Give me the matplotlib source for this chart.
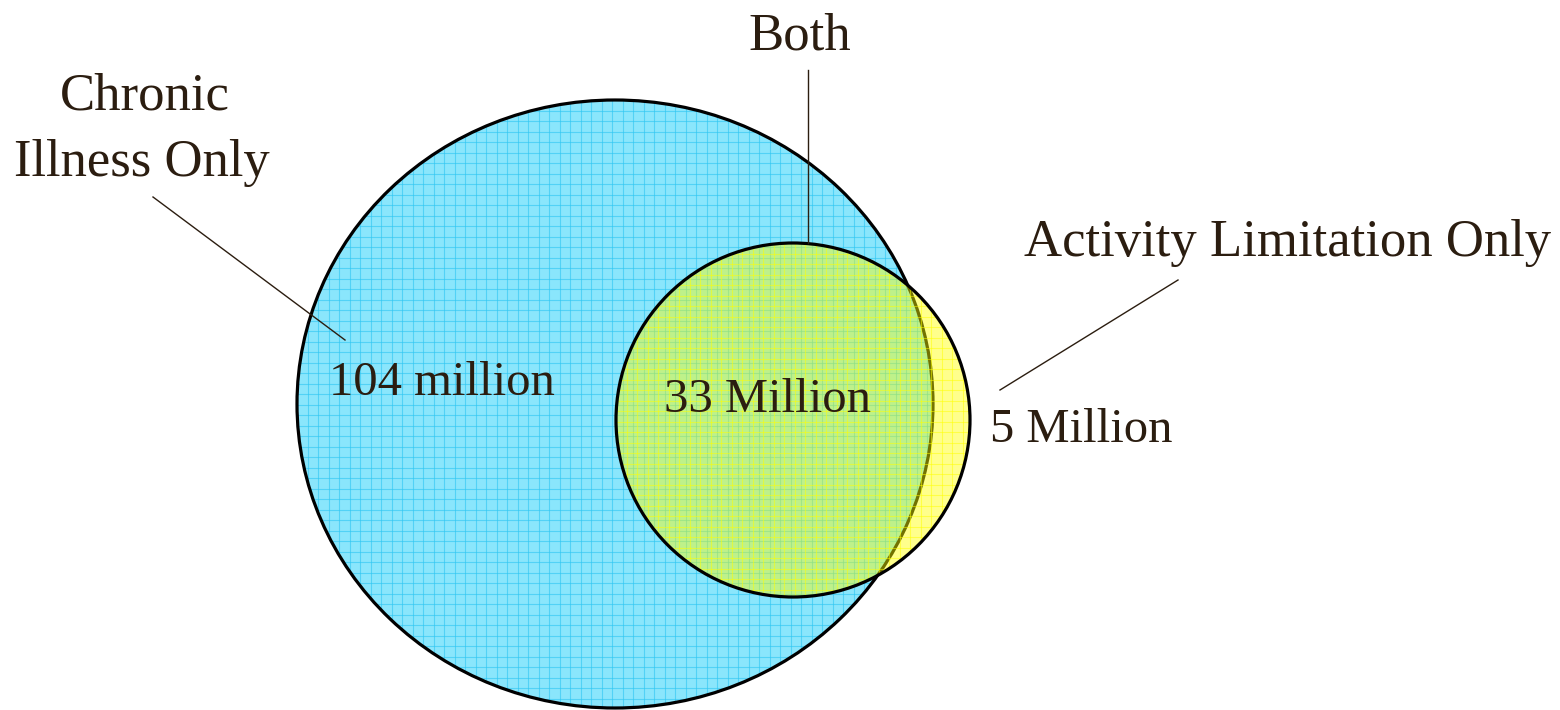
import matplotlib
matplotlib.use("Agg")
import matplotlib.pyplot as plt
import numpy as np
from matplotlib.patches import Ellipse

# Data
sets = ["Chronic Illness Only", "Both", "Activity Limitation Only"]
values_text = ["104 million", "33 Million", "5 Million"]

plt.rcParams['font.family'] = ['Liberation Serif', 'DejaVu Serif']
TXT = '#2b1d10'

fig = plt.figure(figsize=(15.6, 7.1), dpi=100)
ax = fig.add_axes([0, 0, 1, 1])
ax.set_xlim(0, 1560)
ax.set_ylim(710, 0)
ax.axis('off')

grid_step = 10.5


def texture(patch, color, alpha, z):
    x0, y0 = patch.center
    w, h = patch.width, patch.height
    xs = np.arange(x0 - w / 2, x0 + w / 2, grid_step)
    ys = np.arange(y0 - h / 2, y0 + h / 2, grid_step)
    for x in xs:
        ln, = ax.plot([x, x], [y0 - h / 2, y0 + h / 2], color=color, lw=0.8,
                      alpha=alpha, zorder=z)
        ln.set_clip_path(patch)
    for y in ys:
        ln, = ax.plot([x0 - w / 2, x0 + w / 2], [y, y], color=color, lw=0.8,
                      alpha=alpha, zorder=z)
        ln.set_clip_path(patch)


# big circle (chronic illness)
big_c, big_w, big_h = (615, 404), 636, 608
big = Ellipse(big_c, big_w, big_h, facecolor='#8ae6fc', edgecolor='none', zorder=1)
ax.add_patch(big)
texture(big, '#2ec6f2', 0.6, 1.5)
ax.add_patch(Ellipse(big_c, big_w, big_h, facecolor='none', edgecolor='black', lw=2.3, zorder=2))

# small circle (activity limitation)
sm_c, sm_d = (793, 420), 354
small = Ellipse(sm_c, sm_d, sm_d, facecolor='#ffff00', alpha=0.45, edgecolor='none', zorder=3)
ax.add_patch(small)
texture(small, '#ffff00', 0.5, 3.5)
ax.add_patch(Ellipse(sm_c, sm_d, sm_d, facecolor='none', edgecolor='black', lw=2.3, zorder=4))

fs = 38
fv = 35
ax.text(145, 97, "Chronic", fontsize=fs, color=TXT, ha='center', va='center', zorder=5)
ax.text(142, 163, "Illness Only", fontsize=fs, color=TXT, ha='center', va='center', zorder=5)
ax.text(800, 36, sets[1], fontsize=fs, color=TXT, ha='center', va='center', zorder=5)
ax.text(1288, 243, sets[2], fontsize=fs, color=TXT, ha='center', va='center', zorder=5)
ax.text(442, 383, values_text[0], fontsize=fv, color=TXT, ha='center', va='center', zorder=5)
ax.text(768, 400, values_text[1], fontsize=fv, color=TXT, ha='center', va='center', zorder=5)
ax.text(1081, 430, values_text[2], fontsize=fv, color=TXT, ha='center', va='center', zorder=5)

# leader lines
ax.plot([153, 345], [197, 340], color=TXT, lw=1.0, zorder=5)
ax.plot([808, 808], [70, 243], color=TXT, lw=1.0, zorder=5)
ax.plot([1178, 1000], [280, 390], color=TXT, lw=1.0, zorder=5)

fig.savefig('out.png', dpi=100)
